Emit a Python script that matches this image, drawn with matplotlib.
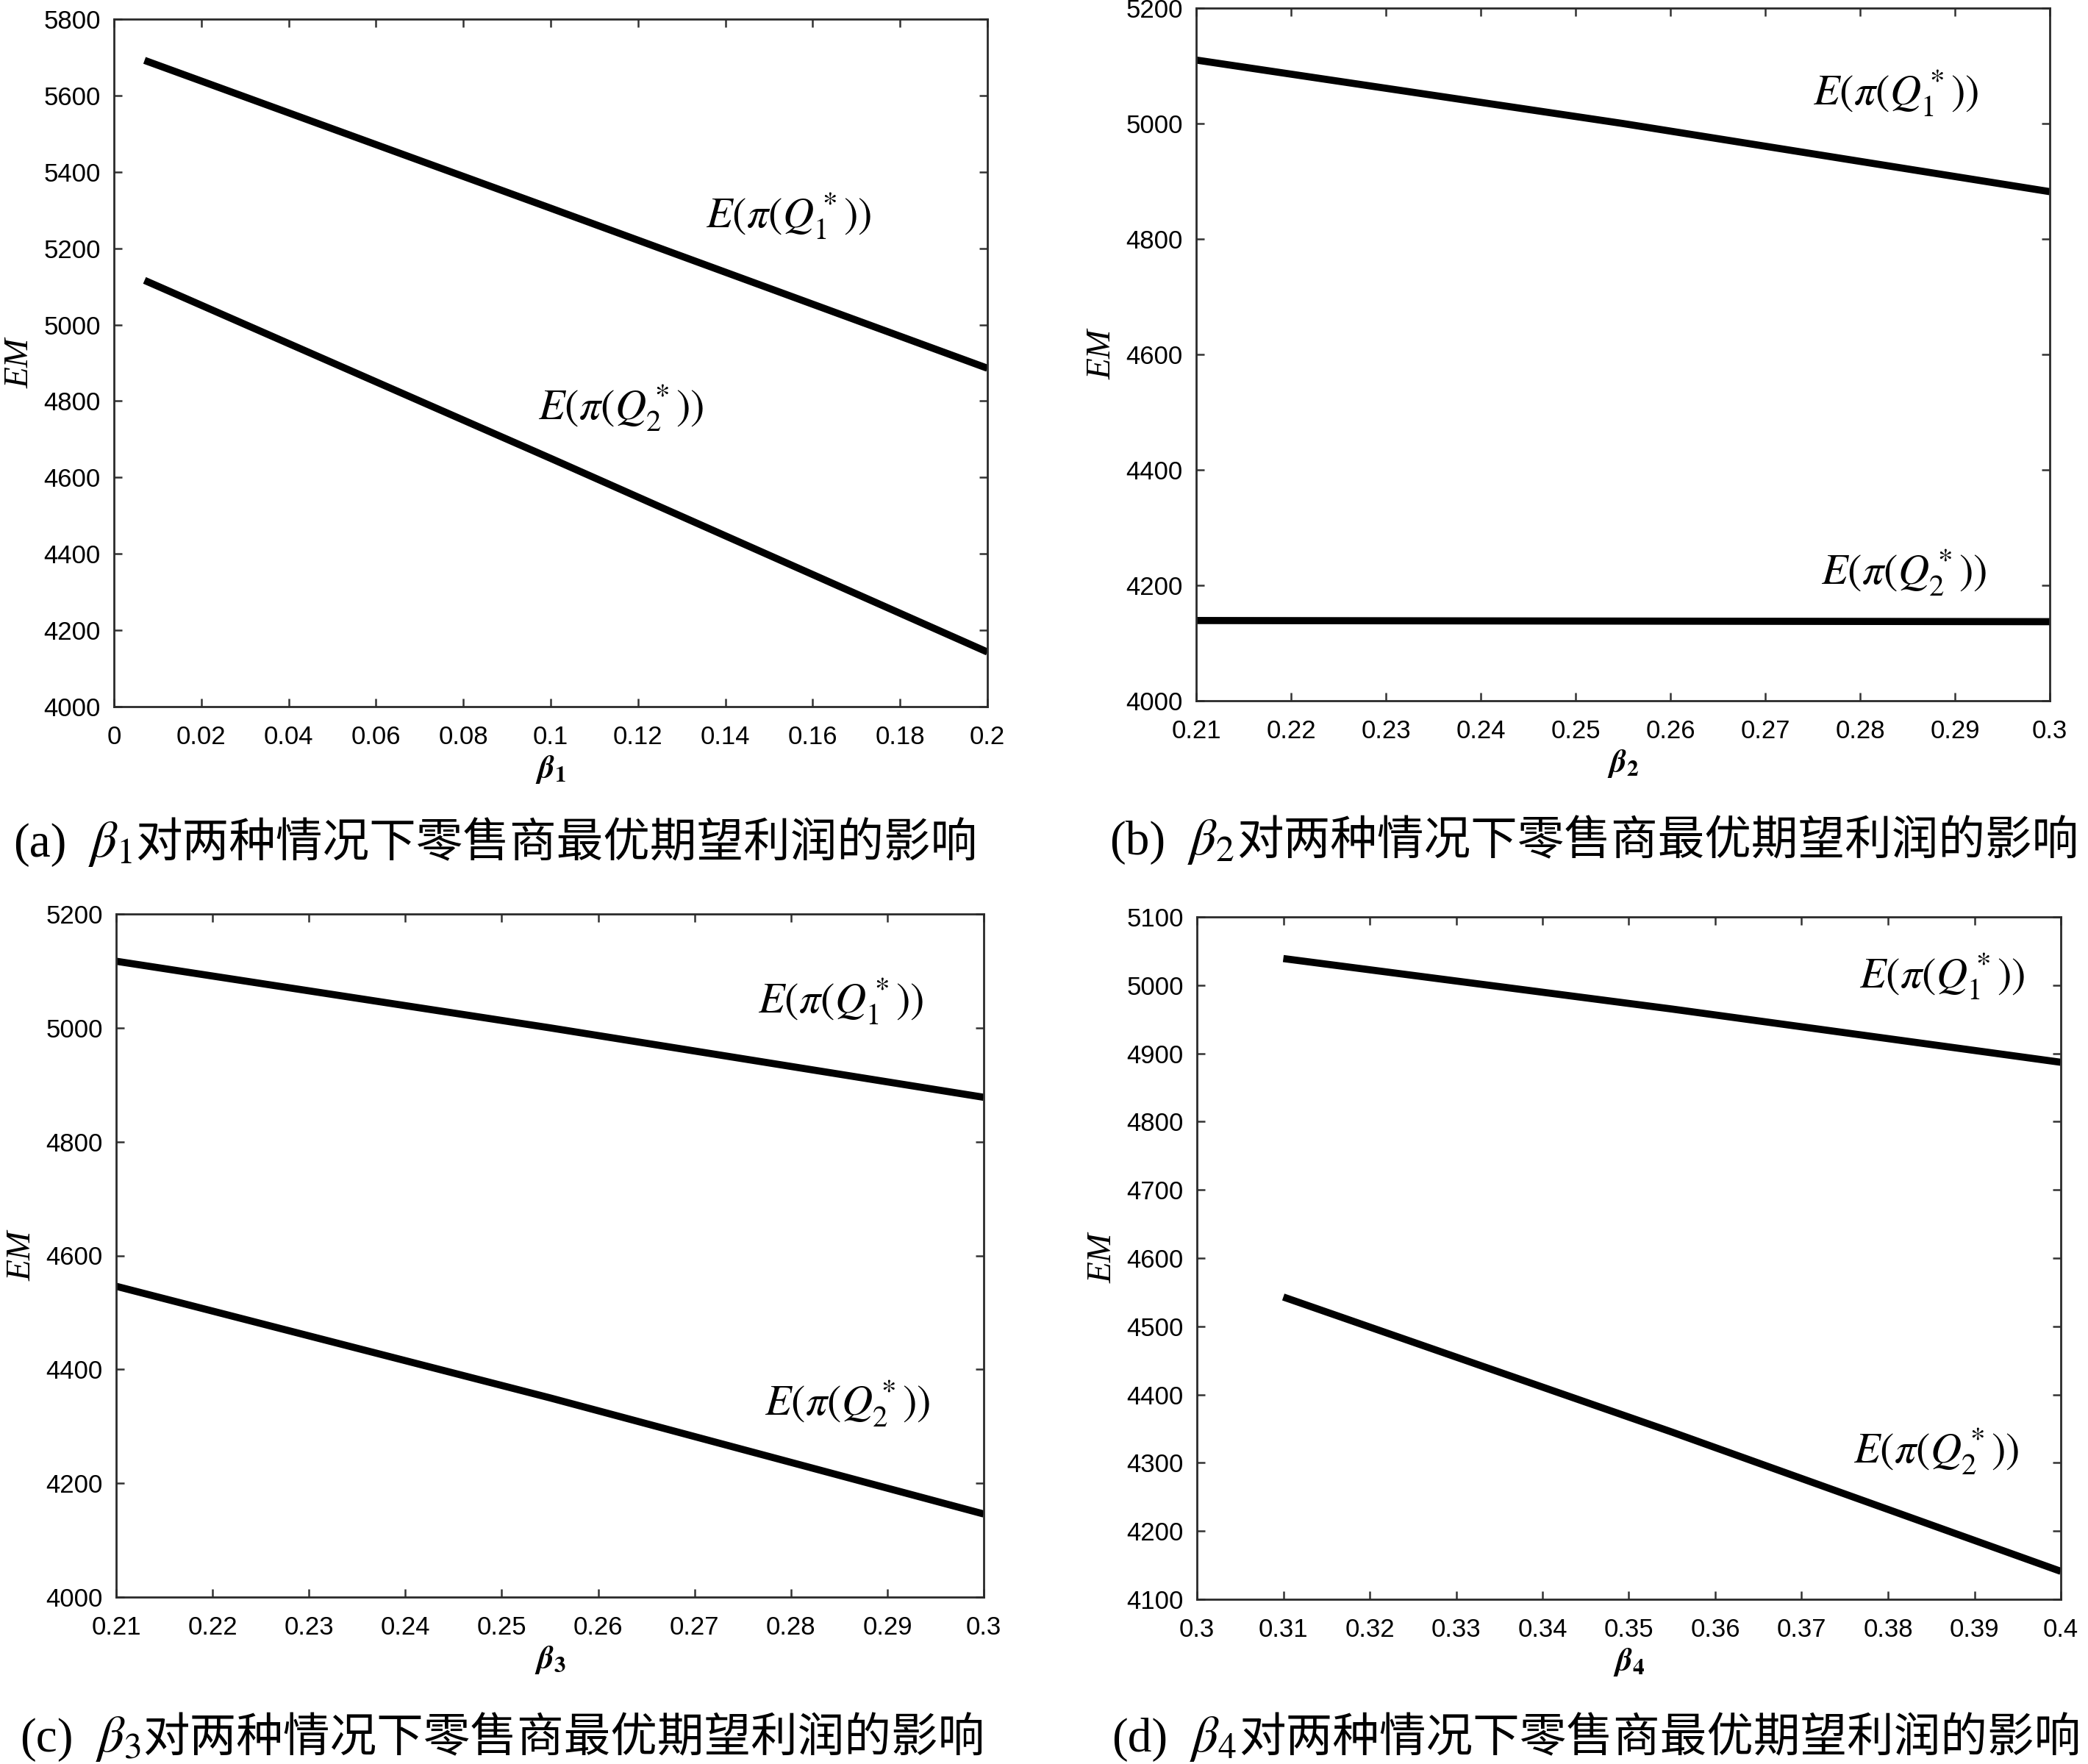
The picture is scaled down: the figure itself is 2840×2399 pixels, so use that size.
import numpy as np
import matplotlib
matplotlib.use("Agg")
import matplotlib.pyplot as plt
from matplotlib.ticker import FuncFormatter

plt.rcParams["mathtext.fontset"] = "stix"
plt.rcParams["font.family"] = ["Liberation Sans", "DejaVu Sans"]

# ---- data ----
b1_x = [0.007, 0.1, 0.2]
b1_q1 = [5692, 5305, 4886]
b1_q2 = [5116, 4650, 4143]

b2_x = [0.21, 0.255, 0.3]
b2_q1 = [5110, 5000, 4882]
b2_q2 = [4139, 4138, 4137]

b3_x = [0.21, 0.255, 0.3]
b3_q1 = [5117, 5000, 4878]
b3_q2 = [4546, 4350, 4146]

b4_x = [0.31, 0.355, 0.4]
b4_q1 = [5039, 4965, 4887]
b4_q2 = [4543, 4345, 4141]

tags = ["(a)", "(b)", "(c)", "(d)"]
subs = ["1", "2", "3", "4"]
caption_rest = "对两种情况下零售商最优期望利润的影响"

xticks = [np.round(np.arange(0, 0.2001, 0.02), 2),
          np.round(np.arange(0.21, 0.3001, 0.01), 2),
          np.round(np.arange(0.21, 0.3001, 0.01), 2),
          np.round(np.arange(0.3, 0.4001, 0.01), 2)]
yticks = [np.arange(4000, 5801, 200), np.arange(4000, 5201, 200),
          np.arange(4000, 5201, 200), np.arange(4100, 5101, 100)]

# label anchor points (left edge, vertical centre) in data units
lab_q1 = [(0.1355, 5284), (0.275, 5052), (0.2766, 5046), (0.3767, 5013)]
lab_q2 = [(0.0972, 4782), (0.2759, 4222), (0.2773, 4340), (0.3760, 4317)]

series = [(b1_x, b1_q1, b1_q2), (b2_x, b2_q1, b2_q2),
          (b3_x, b3_q1, b3_q2), (b4_x, b4_q1, b4_q2)]

W, H = 2840, 2399
fig = plt.figure(figsize=(W / 100, H / 100), dpi=100)

# axes boxes in pixels: left, top, right, bottom
boxes = [(155, 26, 1343, 961), (1627, 11, 2788, 953),
         (158, 1243, 1338, 2172), (1628, 1247, 2803, 2175)]

fmt = FuncFormatter(lambda v, p: "%g" % v)
axes = []
for i, (l, t, r, b) in enumerate(boxes):
    ax = fig.add_axes([l / W, 1 - b / H, (r - l) / W, (b - t) / H])
    axes.append(ax)
    x, q1, q2 = series[i]
    ax.plot(x, q1, color="black", lw=7, solid_capstyle="butt")
    ax.plot(x, q2, color="black", lw=7, solid_capstyle="butt")
    ax.set_xlim(xticks[i][0], xticks[i][-1])
    ax.set_ylim(yticks[i][0], yticks[i][-1])
    ax.set_xticks(xticks[i])
    ax.set_yticks(yticks[i])
    ax.xaxis.set_major_formatter(fmt)
    ax.yaxis.set_major_formatter(fmt)
    ax.tick_params(direction="in", top=True, right=True, length=8, width=1.8,
                   color="#333333", labelsize=25)
    ax.tick_params(axis="x", pad=18)
    ax.tick_params(axis="y", pad=13)
    for s in ax.spines.values():
        s.set_linewidth(2)
        s.set_color("#2a2a2a")
    ax.set_ylabel("EM", family="Liberation Serif", style="italic", fontsize=34, labelpad=8)
    ax.set_xlabel(r"$\boldsymbol{\beta}_{\mathbf{%s}}$" % subs[i], fontsize=32, labelpad=4)
    ax.text(lab_q1[i][0], lab_q1[i][1], r"$E(\pi(Q_1^*))$", fontsize=42, va="center", ha="left")
    ax.text(lab_q2[i][0], lab_q2[i][1], r"$E(\pi(Q_2^*))$", fontsize=42, va="center", ha="left")

# ---- captions, built from three pieces ----
cap_pos = [(18, 1165), (1509, 1162), (27, 2382), (1512, 2382)]
renderer = fig.canvas.get_renderer()
for i, (cx, cy) in enumerate(cap_pos):
    x0 = cx / W
    y0 = 1 - cy / H
    t1 = fig.text(x0, y0, tags[i], family="Liberation Serif", fontsize=47, va="baseline")
    w1 = t1.get_window_extent(renderer).width / W + 30 / W
    t2 = fig.text(x0 + w1, y0, r"$\beta_{%s}$" % subs[i], fontsize=51, va="baseline")
    w2 = t2.get_window_extent(renderer).width / W + 3 / W
    fig.text(x0 + w1 + w2, y0, caption_rest, family=["Noto Sans CJK SC", "DejaVu Sans"],
             fontsize=45.8, va="baseline")

fig.savefig("out.png", dpi=100)
